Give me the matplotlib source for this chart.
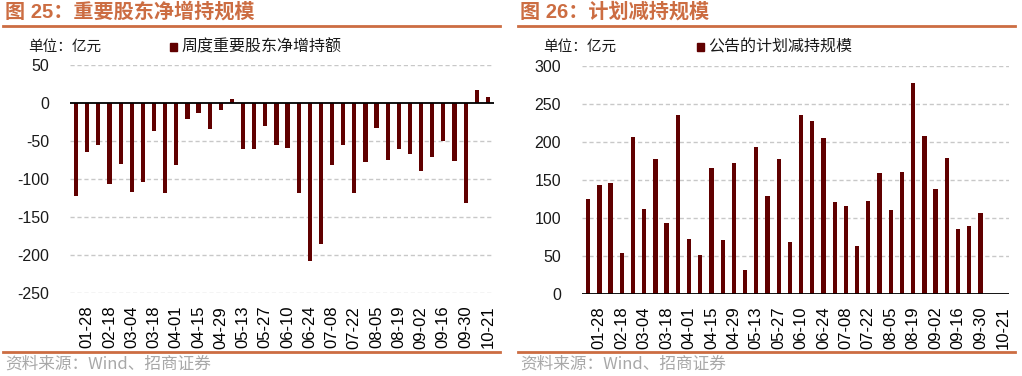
import numpy as np
import matplotlib
matplotlib.use('Agg')
import matplotlib.pyplot as plt
from matplotlib.lines import Line2D
from matplotlib.patches import Rectangle

# weekly dates (only every other one is shown on the axis)
dates = ['01-21', '01-28', '02-11', '02-18', '02-25', '03-04', '03-11', '03-18',
         '03-25', '04-01', '04-08', '04-15', '04-22', '04-29', '05-06', '05-13',
         '05-20', '05-27', '06-03', '06-10', '06-17', '06-24', '07-01', '07-08',
         '07-15', '07-22', '07-29', '08-05', '08-12', '08-19', '08-26', '09-02',
         '09-09', '09-16', '09-23', '09-30', '10-14', '10-21']

# 周度重要股东净增持额 (亿元)
net_increase = [-122, -65, -56, -106, -80, -117, -104, -37, -119, -82,
                -21, -14, -35, -9, 5, -61, -61, -30, -55, -59,
                -119, -207, -185, -81, -56, -119, -78, -33, -75, -60,
                -67, -90, -71, -50, -76, -131, 17, 8]

# 公告的计划减持规模 (亿元), no data for the last two weeks
planned_reduce = [125, 143, 146, 54, 207, 112, 178, 93, 236, 73,
                  51, 166, 71, 172, 32, 193, 129, 178, 68, 235,
                  228, 205, 121, 116, 63, 122, 159, 110, 161, 278,
                  208, 138, 179, 86, 90, 106, np.nan, np.nan]

W, H = 1022, 376
BAR = '#600000'
ORANGE = '#cc6d42'
GRID = '#c8c8c8'
CJK = ['Noto Sans CJK SC', 'DejaVu Sans']
NUM = ['Liberation Sans', 'Noto Sans CJK SC']

fig = plt.figure(figsize=(W / 100, H / 100), dpi=100)


def px(x, y):
    return x / W, 1 - y / H


def hline(x0, x1, y, color, lw):
    fig.add_artist(Line2D([x0 / W, x1 / W], [1 - y / H, 1 - y / H],
                          transform=fig.transFigure, color=color, lw=lw))


def panel(rect, values, ylim, yticks, title, legend, x_title, x_unit, x_leg):
    ax = fig.add_axes(rect)
    x = np.arange(len(dates))
    ax.bar(x, values, width=0.38, color=BAR, zorder=3)
    ax.set_xlim(-0.55, len(dates) - 0.45)
    ax.set_ylim(*ylim)
    ax.set_yticks(yticks)
    ax.set_yticklabels([str(v) for v in yticks], family=NUM, fontsize=11.5,
                       color='#1a1a1a')
    ax.set_xticks(x[1::2])
    ax.set_xticklabels(dates[1::2], rotation=90, family=NUM, fontsize=12,
                       color='black')
    ax.tick_params(length=0)
    ax.tick_params(axis='y', pad=15)
    ax.tick_params(axis='x', pad=9)
    for s in ax.spines.values():
        s.set_visible(False)
    for v in yticks:
        if v != 0:
            ax.axhline(v, color=GRID, lw=1, ls=(0, (3, 2)), zorder=1)
    ax.axhline(0, color='black', lw=1.3, zorder=4)

    # header / footer
    fig.text(*px(x_title, 12), title, family=NUM, fontsize=14.5,
             fontweight='bold', color=ORANGE, va='center', ha='left')
    hline(x_title - 2, x_title + 495, 25.5, ORANGE, 2)
    fig.text(*px(x_unit, 47), '单位：亿元', family=CJK, fontsize=10.5,
             color='#1a1a1a', va='center', ha='left')
    fig.add_artist(Rectangle(px(x_leg, 51), 7 / W, 8 / H,
                             transform=fig.transFigure, color=BAR))
    fig.text(*px(x_leg + 11, 47), legend, family=CJK, fontsize=11.5,
             color='#1a1a1a', va='center', ha='left')
    hline(x_title - 2, x_title + 495, 352, ORANGE, 2)
    fig.text(*px(x_title, 364), '资料来源：Wind、招商证券', family=CJK,
             fontsize=12, color='#a8a8a8', va='center', ha='left')
    return ax


panel([70 / W, 82.7 / H, 424 / W, 228.6 / H], net_increase, (-250, 50),
      [50, 0, -50, -100, -150, -200, -250],
      '图 25：重要股东净增持规模', '周度重要股东净增持额', 5, 28, 170)

panel([582 / W, 82 / H, 427 / W, 228 / H], planned_reduce, (0, 300),
      [0, 50, 100, 150, 200, 250, 300],
      '图 26：计划减持规模', '公告的计划减持规模', 520, 543, 697)

fig.savefig('out.png', dpi=100)
